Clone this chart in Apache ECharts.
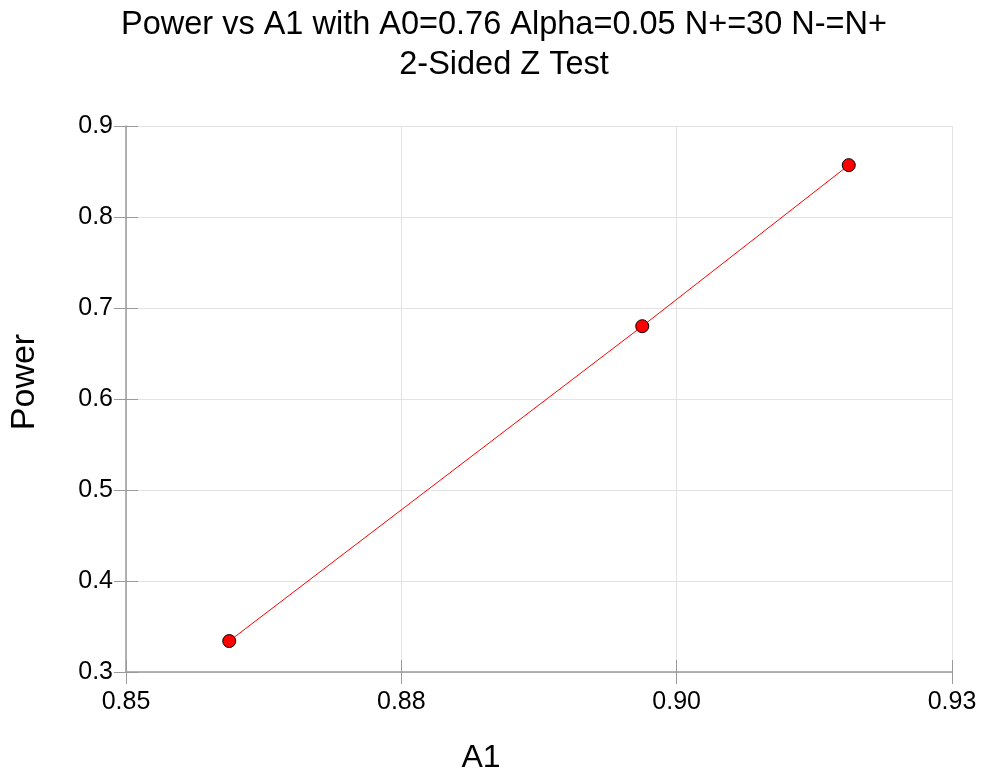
<!DOCTYPE html>
<html>
<head>
<meta charset="utf-8">
<script src="https://cdn.jsdelivr.net/npm/echarts@6/dist/echarts.min.js"></script>
<style>
  html, body { margin: 0; padding: 0; background: #ffffff; overflow: hidden; }
  #chart { width: 981px; height: 772px; }
</style>
</head>
<body>
<div id="chart"></div>
<script>
// Power of the 2-sided Z test for several values of A1
const a1Values = [0.86, 0.90, 0.92];
const powerValues = [0.334, 0.680, 0.857];

// Axis ranges and tick labels
const xRange = [0.85, 0.93];
const xTickLabels = ['0.85', '0.88', '0.90', '0.93'];
const yRange = [0.3, 0.9];
const yStep = 0.1;

// X ticks split the range into equal parts, one per label gap
const xTickValues = xTickLabels.map((_, i) =>
  xRange[0] + (xRange[1] - xRange[0]) * i / (xTickLabels.length - 1));

const FONT = '"Liberation Sans", Arial, sans-serif';
const AXIS_GREY = '#9a9a9a';
const GRID_GREY = '#e2e2e2';

const chart = echarts.init(document.getElementById('chart'), null, { renderer: 'canvas' });

const baseX = {
  type: 'value',
  min: xRange[0],
  max: xRange[1],
  position: 'bottom',
  gridIndex: 0
};
const baseY = {
  type: 'value',
  min: yRange[0],
  max: yRange[1],
  interval: yStep,
  position: 'left',
  gridIndex: 0
};

chart.setOption({
  animation: false,
  backgroundColor: '#ffffff',
  title: {
    text: 'Power vs A1 with A0=0.76 Alpha=0.05 N+=30 N-=N+\n2-Sided Z Test',
    left: 504,
    top: 5,
    textAlign: 'center',
    padding: 0,
    textStyle: {
      fontFamily: FONT,
      fontSize: 32.5,
      fontWeight: 'normal',
      color: '#000000',
      lineHeight: 40
    }
  },
  grid: {
    left: 126, top: 126, width: 826, height: 546,
    containLabel: false,
    outerBoundsMode: 'none'
  },
  xAxis: [
    Object.assign({}, baseX, {
      name: 'A1',
      nameLocation: 'middle',
      nameGap: 70,
      nameTextStyle: { fontFamily: FONT, fontSize: 32, color: '#000000', padding: [0, 116, 0, 0] },
      axisLine: { show: true, onZero: false, lineStyle: { color: AXIS_GREY, width: 1.5 } },
      axisTick: { show: true, inside: false, length: 12, customValues: xTickValues, lineStyle: { color: AXIS_GREY, width: 1 } },
      axisLabel: {
        show: true, margin: 18, customValues: xTickValues,
        fontFamily: FONT, fontSize: 25, color: '#000000',
        formatter: (v) => xTickLabels[xTickValues.findIndex(t => Math.abs(t - v) < 1e-9)]
      },
      splitLine: { show: true, lineStyle: { color: GRID_GREY, width: 1 } }
    }),
    // inner half of the x ticks
    Object.assign({}, baseX, {
      axisLine: { show: false, onZero: false },
      axisTick: { show: true, inside: true, length: 12, customValues: xTickValues, lineStyle: { color: AXIS_GREY, width: 1 } },
      axisLabel: { show: false },
      splitLine: { show: false }
    })
  ],
  yAxis: [
    Object.assign({}, baseY, {
      name: 'Power',
      nameLocation: 'middle',
      nameGap: 84,
      nameRotate: 90,
      nameTextStyle: { fontFamily: FONT, fontSize: 34, color: '#000000', padding: [0, 0, 0, 34] },
      axisLine: { show: true, onZero: false, lineStyle: { color: AXIS_GREY, width: 1.5 } },
      axisTick: { show: true, inside: false, length: 12, lineStyle: { color: AXIS_GREY, width: 1 } },
      axisLabel: {
        show: true, margin: 13,
        fontFamily: FONT, fontSize: 25, color: '#000000',
        formatter: (v) => (Math.round(v * 10) / 10).toString()
      },
      splitLine: { show: true, lineStyle: { color: GRID_GREY, width: 1 } }
    }),
    // inner half of the y ticks
    Object.assign({}, baseY, {
      axisLine: { show: false, onZero: false },
      axisTick: { show: true, inside: true, length: 12, lineStyle: { color: AXIS_GREY, width: 1 } },
      axisLabel: { show: false },
      splitLine: { show: false }
    })
  ],
  series: [{
    type: 'line',
    xAxisIndex: 0,
    yAxisIndex: 0,
    data: a1Values.map((x, i) => [x, powerValues[i]]),
    symbol: 'circle',
    symbolSize: 13,
    lineStyle: { color: '#ff0000', width: 1 },
    itemStyle: { color: '#ff0000', borderColor: '#000000', borderWidth: 1 },
    z: 5
  }]
});
</script>
</body>
</html>
